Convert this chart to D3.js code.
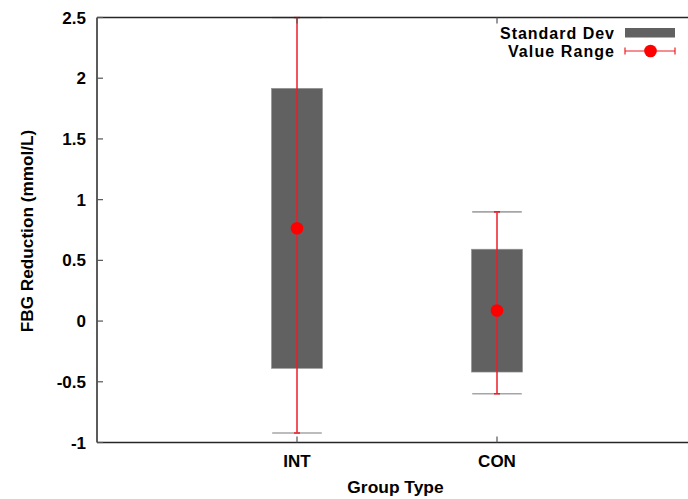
<!DOCTYPE html>
<html><head><meta charset="utf-8">
<script src="https://cdn.jsdelivr.net/npm/d3@7"></script>
<style>
html,body{margin:0;padding:0;background:#fff;}
svg{display:block;}
text{font-family:"Liberation Sans",Arial,sans-serif;font-weight:bold;fill:#000;}
</style></head>
<body>
<script>
const categories = ["INT", "CON"];
const means = [0.765, 0.087];
const sdLow = [-0.39, -0.42];
const sdHigh = [1.917, 0.592];
const rangeLow = [-0.922, -0.598];
const rangeHigh = [2.5, 0.899];
const yTicks = [-1, -0.5, 0, 0.5, 1, 1.5, 2, 2.5];
const yTickLabels = ["-1", "-0.5", "0", "0.5", "1", "1.5", "2", "2.5"];
const legendLabels = ["Standard Dev", "Value Range"];

const W = 688, H = 499;
const L = 97, T = 17.5, B = 442.5, R = 697;
const svg = d3.select("body").append("svg").attr("width", W).attr("height", H);

const x = d3.scaleLinear().domain([0, 3]).range([L, R]);
const y = d3.scaleLinear().domain([-1, 2.5]).range([B, T]);
const boxHalf = 0.128, capHalf = 0.124;

svg.append("defs").append("clipPath").attr("id", "clip")
  .append("rect").attr("x", L).attr("y", T - 1).attr("width", W - L).attr("height", B - T + 2);

const g = svg.append("g").attr("clip-path", "url(#clip)");
const idx = categories.map((c, i) => i);

// SD boxes
g.selectAll("rect.sd").data(idx).enter().append("rect")
  .attr("x", i => x(i + 1 - boxHalf))
  .attr("width", i => x(i + 1 + boxHalf) - x(i + 1 - boxHalf))
  .attr("y", i => y(sdHigh[i]))
  .attr("height", i => y(sdLow[i]) - y(sdHigh[i]))
  .attr("fill", "#616161")
  .attr("stroke", "#9a9a9a").attr("stroke-width", 0.6);

// range lines
g.selectAll("line.rng").data(idx).enter().append("line")
  .attr("x1", i => x(i + 1)).attr("x2", i => x(i + 1))
  .attr("y1", i => y(rangeLow[i])).attr("y2", i => y(rangeHigh[i]))
  .attr("stroke", "#ee1c24").attr("stroke-width", 1.5);

// caps
[rangeLow, rangeHigh].forEach(arr => {
  g.selectAll(null).data(idx).enter().append("line")
    .attr("x1", i => x(i + 1 - capHalf)).attr("x2", i => x(i + 1 + capHalf))
    .attr("y1", i => y(arr[i])).attr("y2", i => y(arr[i]))
    .attr("stroke", "#a6a6a6").attr("stroke-width", 1.6);
  g.selectAll(null).data(idx).enter().append("line")
    .attr("x1", i => x(i + 1) - 3).attr("x2", i => x(i + 1) + 3)
    .attr("y1", i => y(arr[i])).attr("y2", i => y(arr[i]))
    .attr("stroke", "#ee1c24").attr("stroke-width", 1.6);
});

// points
g.selectAll("circle.pt").data(idx).enter().append("circle")
  .attr("cx", i => x(i + 1)).attr("cy", i => y(means[i]))
  .attr("r", 6.3).attr("fill", "#ff0000");

// axes
const axisColor = "#262626";
svg.append("line").attr("x1", L).attr("x2", W).attr("y1", B).attr("y2", B)
  .attr("stroke", axisColor).attr("stroke-width", 1.5);
svg.append("line").attr("x1", L).attr("x2", W).attr("y1", T).attr("y2", T)
  .attr("stroke", axisColor).attr("stroke-width", 1.5);
svg.append("line").attr("x1", L).attr("x2", L).attr("y1", T).attr("y2", B)
  .attr("stroke", axisColor).attr("stroke-width", 1.5);

// y ticks
svg.selectAll("line.yt").data(yTicks).enter().append("line")
  .attr("x1", L).attr("x2", L + 6)
  .attr("y1", d => y(d)).attr("y2", d => y(d))
  .attr("stroke", "#555").attr("stroke-width", 1.2);
svg.selectAll("text.yl").data(yTicks).enter().append("text")
  .attr("x", L - 11).attr("y", d => y(d)).attr("dy", "0.36em")
  .attr("text-anchor", "end").attr("font-size", "17px")
  .text((d, i) => yTickLabels[i]);

// x ticks
idx.forEach(i => {
  svg.append("line").attr("x1", x(i + 1)).attr("x2", x(i + 1))
    .attr("y1", B).attr("y2", B - 6).attr("stroke", "#555").attr("stroke-width", 1.2);
  svg.append("line").attr("x1", x(i + 1)).attr("x2", x(i + 1))
    .attr("y1", T).attr("y2", T + 6).attr("stroke", "#555").attr("stroke-width", 1.2);
});
svg.selectAll("text.xl").data(idx).enter().append("text")
  .attr("x", i => x(i + 1)).attr("y", 467)
  .attr("text-anchor", "middle").attr("font-size", "17px")
  .text(i => categories[i]);

// axis titles
svg.append("text").attr("x", 395.5).attr("y", 493)
  .attr("text-anchor", "middle").attr("font-size", "17.4px").text("Group Type");
svg.append("text").attr("transform", "translate(33,231) rotate(-90)")
  .attr("text-anchor", "middle").attr("font-size", "17.2px").text("FBG Reduction (mmol/L)");

// legend
svg.append("text").attr("x", 614).attr("y", 38.5).attr("text-anchor", "end")
  .attr("font-size", "16px").attr("textLength", 114).attr("lengthAdjust", "spacing")
  .text(legendLabels[0]);
svg.append("rect").attr("x", 625).attr("y", 28).attr("width", 50).attr("height", 9.5)
  .attr("fill", "#616161");
svg.append("text").attr("x", 614).attr("y", 56.5).attr("text-anchor", "end")
  .attr("font-size", "16px").attr("textLength", 106).attr("lengthAdjust", "spacing")
  .text(legendLabels[1]);
const ly = 51;
svg.append("line").attr("x1", 625).attr("x2", 675).attr("y1", ly).attr("y2", ly)
  .attr("stroke", "#ee1c24").attr("stroke-width", 1.2);
[625, 675].forEach(px => svg.append("line").attr("x1", px).attr("x2", px)
  .attr("y1", ly - 3.5).attr("y2", ly + 3.5).attr("stroke", "#ee1c24").attr("stroke-width", 1.2));
svg.append("circle").attr("cx", 650.5).attr("cy", ly).attr("r", 6.3).attr("fill", "#ff0000");
</script>
</body></html>
